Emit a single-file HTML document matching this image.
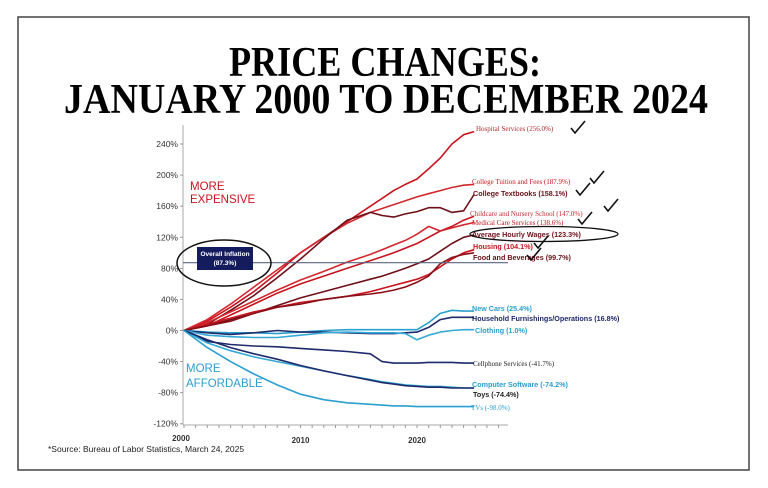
<!DOCTYPE html>
<html><head><meta charset="utf-8"><style>
html,body{margin:0;padding:0;background:#fff;width:768px;height:488px;overflow:hidden}
svg{display:block}
text{font-family:"Liberation Sans",sans-serif}
</style></head><body>
<svg id="chart" width="768" height="488" viewBox="0 0 768 488">
<rect x="18" y="17" width="731" height="453" fill="#fff" stroke="#444" stroke-width="1.5"/>
<text x="385" y="76" text-anchor="middle" font-family="Liberation Serif" font-weight="bold" font-size="42" textLength="312" lengthAdjust="spacingAndGlyphs" style="font-family:'Liberation Serif',serif">PRICE CHANGES:</text>
<text x="386" y="113" text-anchor="middle" font-weight="bold" font-size="42" textLength="644" lengthAdjust="spacingAndGlyphs" style="font-family:'Liberation Serif',serif">JANUARY 2000 TO DECEMBER 2024</text>
<g id="axes"></g>
<g id="series"></g>
<g id="annot"></g>
<text x="48" y="452" font-size="8.5" fill="#222">*Source: Bureau of Labor Statistics, March 24, 2025</text>
</svg>
<script>
const yTicks=[240,200,160,120,80,40,0,-40,-80,-120];
const xTicks=[2000,2010,2020];
const years=[2000,2002,2004,2006,2008,2010,2012,2014,2016,2017,2018,2019,2020,2021,2022,2023,2024,2024.9];
const hospital=[0,12,30,50,74,100,120,140,160,170,180,188,195,208,222,240,252,256];
const tuition=[0,14,34,56,78,100,120,138,152,157,162,167,172,176,180,184,187,188];
const textbooks=[0,8,26,45,68,92,118,142,152,148,146,150,153,158,158,152,154,175];
const childcare=[0,6,20,34,48,60,70,80,90,95,100,106,112,120,128,134,142,147];
const medical=[0,10,24,38,52,65,76,88,98,104,110,116,124,134,128,132,136,139];
const wages=[0,6,14,22,32,42,50,58,66,70,75,80,86,92,102,112,120,123];
const housing=[0,8,16,24,30,36,40,44,50,54,58,62,66,72,82,92,100,104];
const food=[0,6,12,22,30,34,40,44,47,49,52,56,62,70,86,94,98,100];
const newcars=[0,-2,-3,-3,-4,-2,0,1,1,1,1,1,1,10,22,26,25,25];
const household=[0,-3,-5,-3,0,-2,-2,-3,-4,-4,-4,-3,-2,4,14,17,17,17];
const clothing=[0,-6,-8,-9,-9,-6,-3,-2,-3,-3,-3,-4,-12,-6,-2,0,1,1];
const cellphone=[0,-14,-18,-20,-21,-23,-25,-27,-30,-40,-42,-42,-42,-41,-41,-41,-42,-42];
const software=[0,-16,-26,-34,-40,-46,-52,-58,-63,-66,-68,-70,-71,-72,-72,-73,-74,-74];
const toys=[0,-12,-22,-30,-37,-45,-52,-58,-64,-67,-69,-71,-72,-73,-73,-74,-74,-74];
const tvs=[0,-22,-40,-56,-70,-82,-89,-93,-95,-96,-97,-97,-98,-98,-98,-98,-98,-98];
const overallInflation=87.3;

const NS="http://www.w3.org/2000/svg";
const X=y=>184+(y-2000)*11.65;
const Y=v=>330.5-v*0.777;
function mk(tag,attrs,parent,txt){const e=document.createElementNS(NS,tag);for(const k in attrs)e.setAttribute(k,attrs[k]);if(txt!==undefined)e.textContent=txt;parent.appendChild(e);return e;}
const axes=document.getElementById('axes'),ser=document.getElementById('series'),an=document.getElementById('annot');
const ya=mk('line',{x1:183,y1:125,x2:183,y2:425,stroke:'#aaa','stroke-width':1},axes);


const xa=mk('line',{x1:183,y1:425,x2:508,y2:425,stroke:'#aaa','stroke-width':1},axes);


for(let yr=2000;yr<=2027;yr++){const t=mk('line',{x1:X(yr),y1:425,x2:X(yr),y2:428,stroke:'#999'},axes);}
yTicks.forEach(v=>{
 const t=mk('line',{x1:180,y1:Y(v),x2:183,y2:Y(v),stroke:'#999'},axes);
 
 
 const l=mk('text',{x:178,y:Y(v)+3,'text-anchor':'end','font-size':8.5,fill:'#333'},axes,v+'%');
 
 
});
xTicks.forEach((v,i)=>{
 const l=mk('text',{x:X(v)+(i==0?-3:0),y:i==0?441:443,'text-anchor':'middle','font-size':8,fill:'#333','font-weight':'bold'},axes,v);
 
 
});
const inf=mk('line',{x1:183,y1:Y(overallInflation),x2:508,y2:Y(overallInflation),stroke:'#5b6480','stroke-width':1.2},an);



const series=[
 [hospital,'#c8141e','hospital-services','Hospital Services (256.0%)',476,131,'#b02a30',false,7,true],
 [tuition,'#d2282e','college-tuition','College Tuition and Fees (187.9%)',472,184,'#c8141e',false,7,true],
 [textbooks,'#6e1019','college-textbooks','College Textbooks (158.1%)',473,196,'#6e1019',true,7.2,true],
 [childcare,'#c8141e','childcare','Childcare and Nursery School (147.0%)',470,216,'#c02a30',false,7,true],
 [medical,'#d2282e','medical-care','Medical Care Services (138.6%)',472,225,'#c8141e',false,7,true],
 [wages,'#6e1019','average-hourly-wages','Average Hourly Wages (123.3%)',472,237,'#6e1019',true,7.2,false],
 [housing,'#c8141e','housing','Housing (104.1%)',473,249,'#c8141e',true,7.2,true],
 [food,'#8a1018','food-and-beverages','Food and Beverages (99.7%)',473,260,'#6e1019',true,7.2,false],
 [newcars,'#2aa0cf','new-cars','New Cars (25.4%)',472,311,'#2a9fd0',true,7.2,false],
 [household,'#1f2a6b','household-furnishings','Household Furnishings/Operations (16.8%)',472,321,'#1f2a6b',true,7.2,false],
 [clothing,'#35a9d6','clothing','Clothing (1.0%)',475,333,'#2a9fd0',true,7.2,false],
 [cellphone,'#1f2a6b','cellphone-services','Cellphone Services (-41.7%)',473,366,'#222',false,7,false],
 [software,'#35a9d6','computer-software','Computer Software (-74.2%)',472,387,'#2a9fd0',true,7.2,false],
 [toys,'#1f2a6b','toys','Toys (-74.4%)',473,397,'#222',true,7.2,false],
 [tvs,'#2a9fd0','tvs','TVs (-98.0%)',471,410,'#2a9fd0',false,7,false]
];
series.forEach(s=>{
 const d=years.map((yr,i)=>(i?'L':'M')+X(yr).toFixed(1)+','+Y(s[0][i]).toFixed(1)).join('');
 const p=mk('path',{d:d,fill:'none',stroke:s[1],'stroke-width':1.6,'stroke-linejoin':'round'},ser);
 
 
 const t=mk('text',{x:s[4],y:s[5],'font-size':s[8],fill:s[6],'font-weight':s[7]?'bold':'normal'},an,s[3]);
 if(!s[7])t.setAttribute('style','font-family:"Liberation Serif",serif');
 
 
});
// checkmarks
[[571,131],[590,181],[576,193],[604,209],[578,222],[534,246],[527,258]].forEach(c=>{
 const k=mk('path',{d:`M${c[0]},${c[1]-3} l4,5 l10,-12`,fill:'none',stroke:'#111','stroke-width':1.6},an);
 
 
});
const e2=mk('ellipse',{cx:544,cy:234,rx:74,ry:7.5,fill:'none',stroke:'#111','stroke-width':1.3},an);


const e1=mk('ellipse',{cx:224,cy:263,rx:47,ry:23,fill:'none',stroke:'#111','stroke-width':1.5},an);


const bx=mk('rect',{x:197,y:247,width:56,height:23,fill:'#141c5e'},an);


const b1=mk('text',{x:225,y:256,'text-anchor':'middle','font-size':6.5,fill:'#fff','font-weight':'bold'},an,'Overall Inflation');


const b2=mk('text',{x:225,y:265,'text-anchor':'middle','font-size':6.5,fill:'#fff','font-weight':'bold'},an,'(87.3%)');


[['MORE',190,190,'#c8141e','more-expensive-1'],['EXPENSIVE',190,203,'#c8141e','more-expensive-2'],['MORE',186,372,'#2a9fd0','more-affordable-1'],['AFFORDABLE',186,387,'#2a9fd0','more-affordable-2']].forEach(a=>{
 const t=mk('text',{x:a[1],y:a[2],'font-size':11.5,fill:a[3]},an,a[0]);
 
 
});
</script>
</body></html>
